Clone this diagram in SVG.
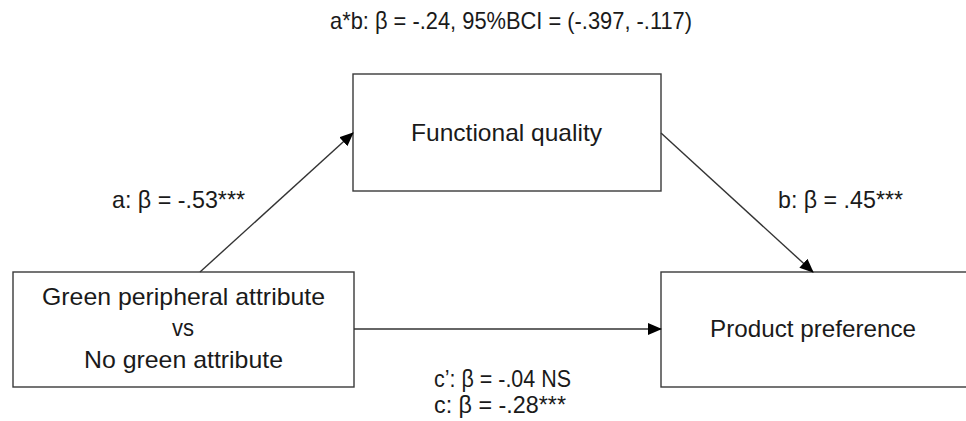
<svg xmlns="http://www.w3.org/2000/svg" width="966" height="421" viewBox="0 0 966 421">
<style>
.box{fill:#fff;stroke:#3a3a3a;stroke-width:1.4}
.t{font-family:"Liberation Sans",Arial,sans-serif;font-size:24px;fill:#1a1a1a}
.c{text-anchor:middle}
.ln{stroke:#333;stroke-width:1.4;fill:none}
</style>
<defs>
<marker id="ah" markerWidth="14" markerHeight="12" refX="13" refY="6" orient="auto" markerUnits="userSpaceOnUse">
<path d="M0,0 L14,6 L0,12 Z" fill="#000"/>
</marker>
</defs>
<rect width="966" height="421" fill="#fff"/>
<text class="t" x="330" y="29" textLength="362" lengthAdjust="spacingAndGlyphs">a*b: β = -.24, 95%BCI = (-.397, -.117)</text>
<g id="x">
<rect class="box" x="13" y="272" width="341" height="115"/>
<text class="t" x="42" y="305" textLength="283" lengthAdjust="spacingAndGlyphs">Green peripheral attribute</text>
<text class="t" x="172" y="336" textLength="22" lengthAdjust="spacingAndGlyphs">vs</text>
<text class="t" x="84" y="368" textLength="199" lengthAdjust="spacingAndGlyphs">No green attribute</text>
</g>
<g id="m">
<rect class="box" x="353" y="74" width="308" height="117"/>
<text class="t" x="411" y="141" textLength="191" lengthAdjust="spacingAndGlyphs">Functional quality</text>
</g>
<g id="y">
<rect class="box" x="661" y="272" width="310" height="115"/>
<text class="t" x="710" y="337" textLength="206" lengthAdjust="spacingAndGlyphs">Product preference</text>
</g>
<g id="connectors">
<line class="ln" x1="200" y1="272" x2="353" y2="133" marker-end="url(#ah)"/>
<line class="ln" x1="661" y1="133" x2="813" y2="272" marker-end="url(#ah)"/>
<line class="ln" x1="354" y1="329" x2="661" y2="329" marker-end="url(#ah)"/>
</g>
<text class="t" x="112" y="208" textLength="133" lengthAdjust="spacingAndGlyphs">a: β = -.53***</text>
<text class="t" x="778" y="208" textLength="125" lengthAdjust="spacingAndGlyphs">b: β = .45***</text>
<text class="t" x="434" y="387" textLength="137" lengthAdjust="spacingAndGlyphs">c’: β = -.04 NS</text>
<text class="t" x="434" y="413" textLength="132" lengthAdjust="spacingAndGlyphs">c: β = -.28***</text>
</svg>
